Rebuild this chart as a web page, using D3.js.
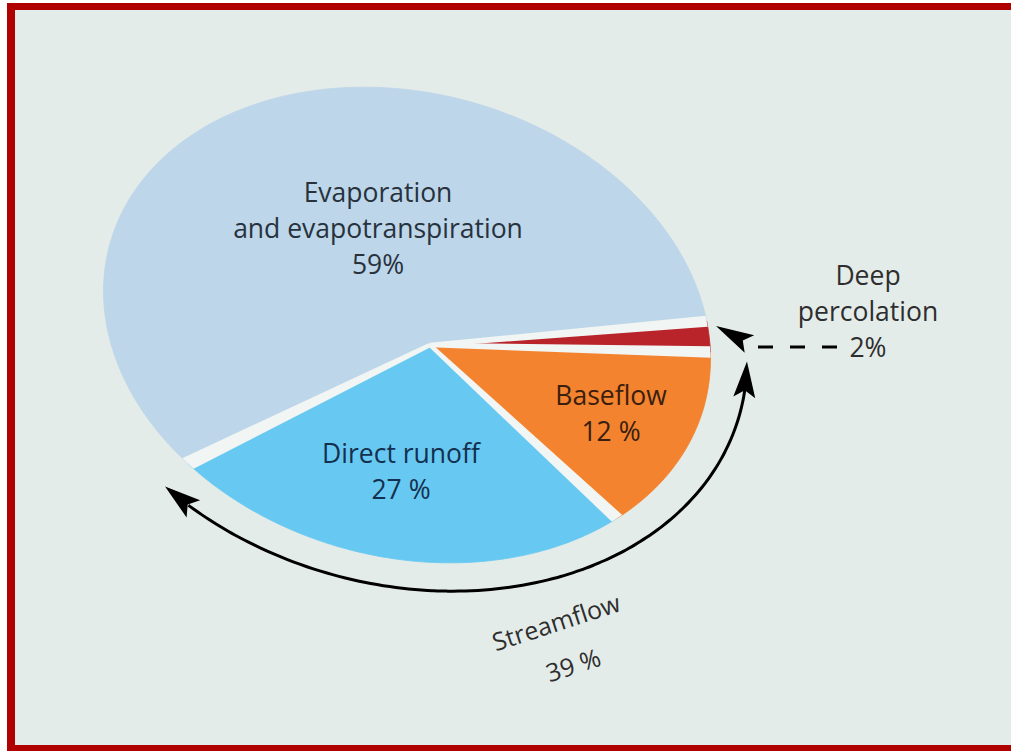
<!DOCTYPE html>
<html>
<head>
<meta charset="utf-8">
<script src="https://cdn.jsdelivr.net/npm/d3@7"></script>
<style>
  body { margin: 0; background: #fff; }
  text { font-family: 'Open Sans', sans-serif; }
</style>
</head>
<body>
<div class="water-budget"></div>
<script>
// data, clockwise from the right
const categories = ['Baseflow', 'Direct runoff', 'Evaporation and evapotranspiration', 'Deep percolation'];
const shares = [12, 27, 59, 2];
const labelLines = [
  ['Baseflow', '12 %'],
  ['Direct runoff', '27 %'],
  ['Evaporation', 'and evapotranspiration', '59%'],
  ['Deep', 'percolation', '2%']
];
const streamflowParts = ['Baseflow', 'Direct runoff'];
const streamflowLines = ['Streamflow', '39 %'];

const width = 1011, height = 751;
const colors = ['#f3832f', '#67c9f1', '#bed6e9', '#b9242a'];
const textColors = ['#3a1e0e', '#14304f', '#27323d', '#2e2e2e'];

// tilted pie: apex off the centre of a rotated ellipse
const apex = [430, 345];
const outline = { cx: 407, cy: 325, a: 308, b: 232, rot: 15 * Math.PI / 180 };
const turn = 10.5 * Math.PI / 180;    // rotation of the first slice
const skew = 11 * Math.PI / 180;      // perspective stretch of the near side
const nearSide = 135 * Math.PI / 180;

function screenAngle(a) {
  const u = a - Math.PI / 2;
  return u + skew * Math.sin(u - nearSide);
}
function edgeDistance(ang) {
  const c = Math.cos(outline.rot), s = Math.sin(outline.rot);
  const px = apex[0] - outline.cx, py = apex[1] - outline.cy;
  const qx = px * c + py * s, qy = -px * s + py * c;
  const dx = Math.cos(ang), dy = Math.sin(ang);
  const ex = dx * c + dy * s, ey = -dx * s + dy * c;
  const A = ex * ex / outline.a ** 2 + ey * ey / outline.b ** 2;
  const B = 2 * (qx * ex / outline.a ** 2 + qy * ey / outline.b ** 2);
  const C = qx * qx / outline.a ** 2 + qy * qy / outline.b ** 2 - 1;
  return (-B + Math.sqrt(B * B - 4 * A * C)) / (2 * A);
}
function ringPoint(a, r) {
  const ang = screenAngle(a);
  const t = edgeDistance(ang) * r;
  return [apex[0] + t * Math.cos(ang), apex[1] + t * Math.sin(ang)];
}
function wedge(a0, a1) {
  const pts = [apex];
  const n = Math.max(4, Math.ceil((a1 - a0) * 60));
  for (let i = 0; i <= n; i++) pts.push(ringPoint(a0 + (a1 - a0) * i / n, 1));
  return d3.line()(pts) + 'Z';
}

const svg = d3.select('.water-budget').append('svg')
  .attr('width', width).attr('height', height);

// frame
svg.append('rect').attr('x', 7).attr('y', 3).attr('width', 1100).attr('height', 748).attr('fill', '#b00000');
svg.append('rect').attr('x', 15).attr('y', 10).attr('width', 1100).attr('height', 735).attr('fill', '#e4ece9');

const pie = d3.pie().sort(null).value(d => d)
  .startAngle(Math.PI / 2 + turn).endAngle(Math.PI / 2 + turn + 2 * Math.PI);
const arcs = pie(shares);
const pad = 0.022;

svg.append('clipPath').attr('id', 'pie-clip')
  .append('path').attr('d', wedge(arcs[0].startAngle, arcs[arcs.length - 1].endAngle));

const slices = svg.append('g');
slices.selectAll('path.slice')
  .data(arcs)
  .enter().append('path')
  .attr('class', 'slice')
  .attr('d', d => wedge(d.startAngle, d.endAngle))
  .attr('fill', (d, i) => colors[i])
  .attr('stroke', (d, i) => colors[i])
  .attr('stroke-width', 0.8);

// light wedge-shaped gaps between slices
slices.append('g').attr('clip-path', 'url(#pie-clip)')
  .selectAll('path')
  .data(arcs)
  .enter().append('path')
  .attr('d', d => {
    const a = d.startAngle;
    const ang = screenAngle(a);
    const nx = -Math.sin(ang) * 2.2, ny = Math.cos(ang) * 2.2;
    return d3.line()([
      [apex[0] + nx, apex[1] + ny],
      ringPoint(a + pad, 1.1),
      ringPoint(a - pad, 1.1),
      [apex[0] - nx, apex[1] - ny]
    ]) + 'Z';
  })
  .attr('fill', '#f1f5f4');

// labels
const labelAnchors = [[611, 405], [401, 463], [378, 202], [868, 285]];
const lineGap = 36;
labelLines.forEach((lines, i) => {
  const t = svg.append('text')
    .attr('text-anchor', 'middle')
    .attr('font-size', 26.5)
    .attr('fill', textColors[i]);
  lines.forEach((l, j) => {
    t.append('tspan').attr('x', labelAnchors[i][0]).attr('y', labelAnchors[i][1] + j * lineGap).text(l);
  });
});

// arrow heads
function arrowHead(tip, dir, len, hw) {
  const n = Math.hypot(dir[0], dir[1]);
  const ux = dir[0] / n, uy = dir[1] / n;
  const bx = tip[0] - ux * len, by = tip[1] - uy * len;
  const mx = tip[0] - ux * len * 0.8, my = tip[1] - uy * len * 0.8;
  svg.append('path')
    .attr('d', d3.line()([tip, [bx - uy * hw, by + ux * hw], [mx, my], [bx + uy * hw, by - ux * hw]]) + 'Z')
    .attr('fill', '#000');
}

// streamflow arc (baseflow + direct runoff)
const sIdx = streamflowParts.map(p => categories.indexOf(p));
const aStart = arcs[sIdx[0]].startAngle + 0.03, aEnd = arcs[sIdx[1]].endAngle - 0.03;
const rr = 1.13;
const trim = 0.1;
const arcPts = [];
for (let i = 0; i <= 100; i++) arcPts.push(ringPoint(aStart + trim * 0.8 + (aEnd - aStart - 1.6 * trim) * i / 100, rr));
svg.append('path').attr('d', d3.line().curve(d3.curveBasis)(arcPts))
  .attr('fill', 'none').attr('stroke', '#000').attr('stroke-width', 3);
[[aStart, aStart + trim], [aEnd, aEnd - trim]].forEach(([aTip, aBase]) => {
  const tip = ringPoint(aTip, rr), base = ringPoint(aBase, rr);
  arrowHead(tip, [tip[0] - base[0], tip[1] - base[1]], 36, 11);
});

// deep percolation dashed arrow
svg.append('line').attr('x1', 837).attr('y1', 347).attr('x2', 745).attr('y2', 347)
  .attr('stroke', '#000').attr('stroke-width', 3).attr('stroke-dasharray', '15,17');
arrowHead([716, 326], [716 - 755, 326 - 347], 38, 10);

// streamflow label
const sl = svg.append('text').attr('text-anchor', 'middle').attr('font-size', 25).attr('fill', '#2e2e2e');
sl.append('tspan').attr('x', 0).attr('y', 0).text(streamflowLines[0]);
sl.append('tspan').attr('x', 3).attr('y', 46).text(streamflowLines[1]);
sl.attr('transform', 'translate(559,631) rotate(-18)');
</script>
</body>
</html>
